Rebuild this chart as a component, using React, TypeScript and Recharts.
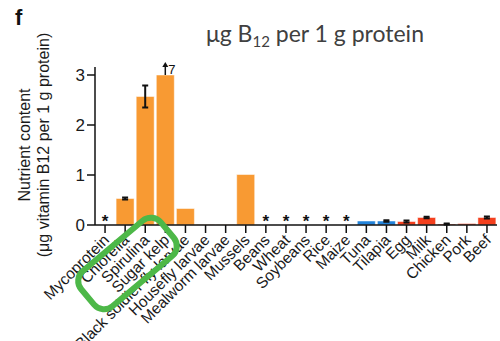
import { Bar, Cell, ComposedChart, ErrorBar, LabelList, Scatter, XAxis, YAxis } from 'recharts'

const foods = [
  'Mycoprotein', 'Chlorella', 'Spirulina', 'Sugar kelp', 'Black soldier fly larvae',
  'Housefly larvae', 'Mealworm larvae', 'Mussels', 'Beans', 'Wheat', 'Soybeans', 'Rice',
  'Maize', 'Tuna', 'Tilapia', 'Egg', 'Milk', 'Chicken', 'Pork', 'Beef',
]
const b12 = [0, 0.53, 2.57, 7, 0.33, 0.01, 0.01, 1.01, 0, 0, 0, 0, 0, 0.08, 0.08, 0.07, 0.15, 0.02, 0.03, 0.15]
const b12Err = [0, 0.02, 0.22, 0, 0, 0, 0, 0, 0, 0, 0, 0, 0, 0, 0.015, 0.02, 0.015, 0.01, 0, 0.02]
// "*" = not detected, "↑7" = bar cut at the axis top
const notes = ['*', '', '', '↑7', '', '', '', '', '*', '*', '*', '*', '*', '', '', '', '', '', '', '']
const groups = ['alt', 'alt', 'alt', 'alt', 'alt', 'alt', 'alt', 'alt', 'alt', 'alt', 'alt', 'alt', 'alt',
  'fish', 'fish', 'land', 'land', 'land', 'land', 'land']
const yTicks = [0, 1, 2, 3]
const yMax = 3
const starLevel = 0.16

const groupColor: Record<string, string> = { alt: '#F89A33', fish: '#2283DA', land: '#F4401E' }
const font = '"Liberation Sans", Arial, sans-serif'

const data = foods.map((name, i) => ({
  name,
  value: b12[i],
  shown: Math.min(b12[i], yMax),
  err: b12Err[i],
  note: notes[i] === '*' ? '' : notes[i],
  star: notes[i] === '*' ? starLevel : null,
  group: groups[i],
}))

function FoodTick({ x, y, payload }: any) {
  return (
    <text
      x={x + 5}
      y={y + 6}
      transform={`rotate(-45 ${x + 5} ${y + 6})`}
      textAnchor="end"
      fontSize={15.5}
      fontFamily={font}
      fill="#1a1a1a"
    >
      {payload.value}
    </text>
  )
}

function Star({ cx, cy }: any) {
  if (cx == null || cy == null) return null
  return (
    <text x={cx} y={cy + 10} textAnchor="middle" fontSize={17} fontFamily={font} fontWeight="bold" fill="#111">
      *
    </text>
  )
}

function CutLabel({ x, y, width, value }: any) {
  if (!value) return null
  const cx = x + width / 2
  return (
    <g>
      <line x1={cx} y1={y} x2={cx} y2={y - 10} stroke="#111" strokeWidth={1.5} />
      <path d={`M${cx - 3},${y - 8} L${cx},${y - 13} L${cx + 3},${y - 8} Z`} fill="#111" />
      <text x={cx + 3} y={y - 1} fontSize={13} fontFamily={font} fill="#111">
        {value.replace('↑', '')}
      </text>
    </g>
  )
}

export default function App() {
  return (
    <div style={{ position: 'absolute', left: 0, top: 0, width: 500, height: 341, background: '#fff' }}>
      <ComposedChart
        width={500}
        height={341}
        data={data}
        margin={{ top: 67, right: 3, bottom: 0, left: 0 }}
        barCategoryGap={1}
      >
        <XAxis
          dataKey="name"
          interval={0}
          height={116}
          tickSize={8}
          tick={<FoodTick />}
          stroke="#111"
          strokeWidth={1.5}
        />
        <YAxis
          width={95}
          domain={[0, 3.16]}
          ticks={yTicks}
          allowDataOverflow
          tickSize={8}
          tick={{ fontSize: 17, fontFamily: font, fill: '#1a1a1a' }}
          stroke="#111"
          strokeWidth={1.5}
        />
        <Bar dataKey="shown" isAnimationActive={false} stroke="#fff" strokeWidth={0.5}>
          {data.map((d) => (
            <Cell key={d.name} fill={groupColor[d.group]} />
          ))}
          <ErrorBar dataKey="err" width={3} stroke="#111" strokeWidth={2} />
          <LabelList dataKey="note" content={<CutLabel />} />
        </Bar>
        <Scatter dataKey="star" isAnimationActive={false} shape={<Star />} />
      </ComposedChart>
      <svg width={500} height={341} style={{ position: 'absolute', left: 0, top: 0, pointerEvents: 'none' }}>
        <text x={15} y={25} fontSize={22} fontWeight="bold" fontFamily={font} fill="#111">f</text>
        <text x={315} y={42} textAnchor="middle" fontSize={23} fontFamily="Lato, sans-serif" fill="#404040">
          μg B<tspan fontSize={15} dy={5}>12</tspan>
          <tspan dy={-5}> per 1 g protein</tspan>
        </text>
        <text transform="rotate(-90 30 145)" x={30} y={145} textAnchor="middle" fontSize={16} fontFamily={font} fill="#1a1a1a">
          Nutrient content
        </text>
        <text transform="rotate(-90 49 145)" x={49} y={145} textAnchor="middle" fontSize={16} fontFamily={font} fill="#1a1a1a">
          (μg vitamin B12 per 1 g protein)
        </text>
        <rect
          x={127.5 - 52}
          y={263.5 - 23}
          width={104}
          height={46}
          rx={13}
          transform="rotate(-40 127.5 263.5)"
          fill="none"
          stroke="#4DB848"
          strokeWidth={6}
        />
      </svg>
    </div>
  )
}
